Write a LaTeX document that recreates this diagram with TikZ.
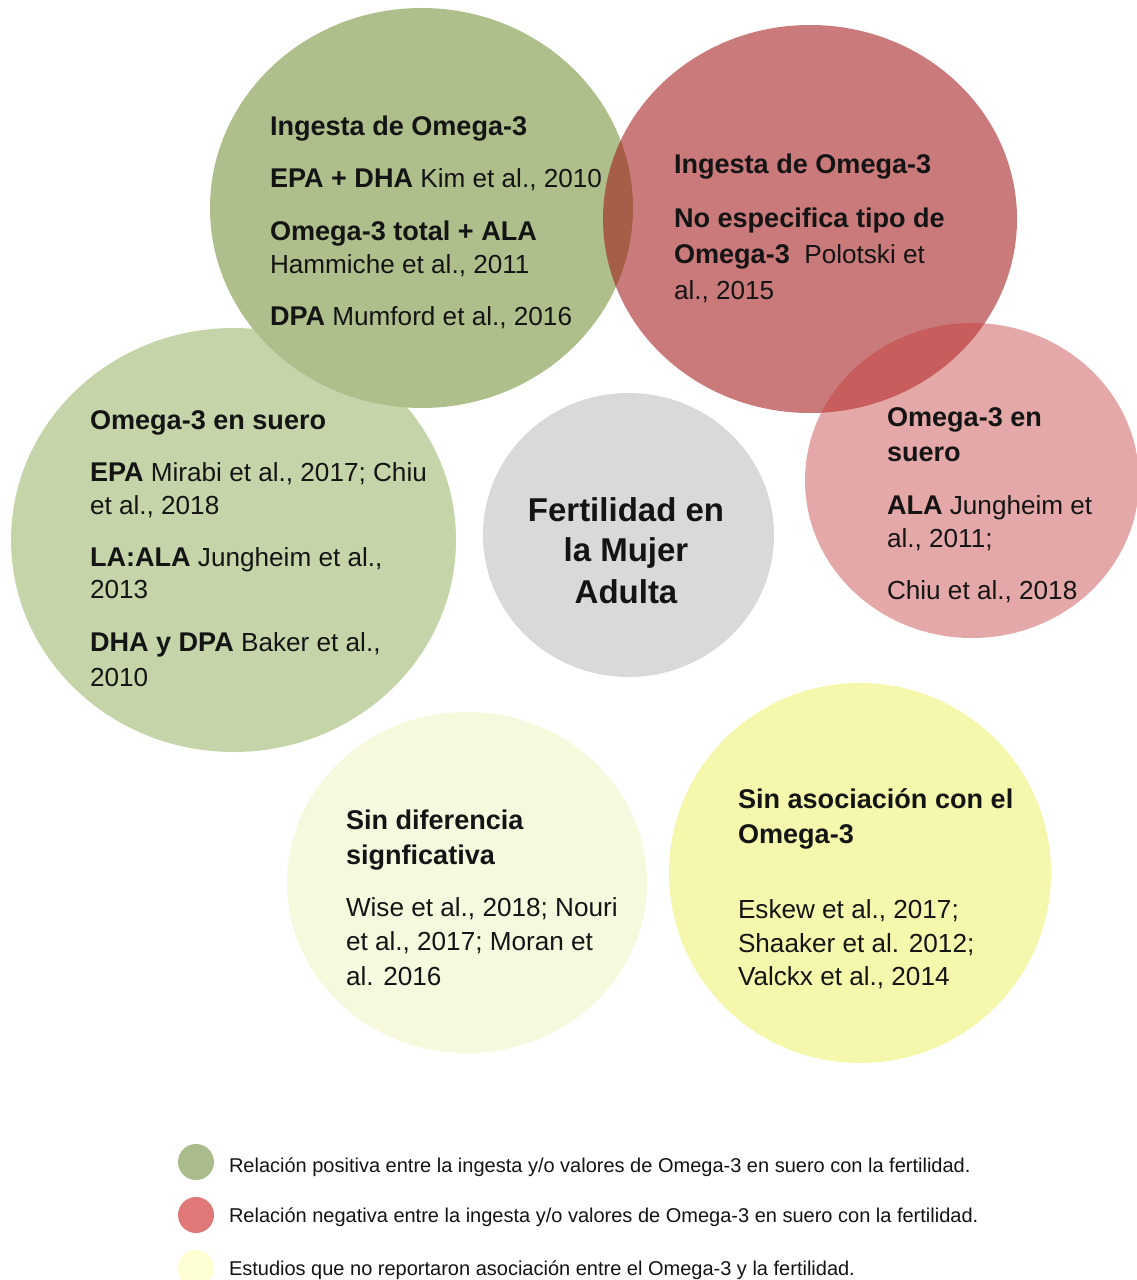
\documentclass[tikz,border=0pt]{standalone}
\usepackage{fontspec}
\setmainfont{Liberation Sans}
\definecolor{cgreen}{RGB}{175,191,139}
\definecolor{clgreen}{RGB}{197,213,169}
\definecolor{cred}{RGB}{162,19,19}
\definecolor{cpink}{RGB}{198,57,57}
\definecolor{cgrey}{RGB}{217,217,217}
\definecolor{clyellow}{RGB}{246,249,222}
\definecolor{cyellow}{RGB}{245,248,172}
\definecolor{lgreen}{RGB}{170,187,140}
\definecolor{lred}{RGB}{224,120,120}
\definecolor{lyellow}{RGB}{255,255,212}
\definecolor{ink}{RGB}{20,20,20}
\newcommand\bt[1]{{\fontsize{20.3}{25}\selectfont\bfseries #1}}
\tikzset{
  txt/.style={anchor=base west, inner sep=0pt, outer sep=0pt, text=ink, font=\fontsize{19.6}{25}\selectfont},
  ctxt/.style={anchor=base, inner sep=0pt, outer sep=0pt, text=ink, font=\fontsize{24.75}{30}\selectfont\bfseries},
  legtxt/.style={anchor=base west, inner sep=0pt, outer sep=0pt, text=ink, font=\fontsize{15}{18}\selectfont},
}
\begin{document}
\begin{tikzpicture}[x=0.75pt,y=-0.75pt]
\useasboundingbox (0,0) rectangle (1137,1280);
\fill[white] (0,0) rectangle (1137,1280);
% circles
\fill[clgreen] (233.5,540) ellipse [x radius=222.5, y radius=212];
\fill[cgreen] (421.5,208) ellipse [x radius=211.5, y radius=200];
\fill[cred, fill opacity=0.56] (810,219) ellipse [x radius=207, y radius=194];
\fill[cpink, fill opacity=0.44] (972,480.5) ellipse [x radius=167, y radius=157.5];
\fill[cgrey] (628.5,535) ellipse [x radius=145.5, y radius=142];
\fill[clyellow] (467,882.5) ellipse [x radius=180, y radius=170.5];
\fill[cyellow] (860,873) ellipse [x radius=191, y radius=190];
% top green texts
\node[txt] (g1) at (270,136) {\bt{Ingesta de Omega-3}};
\node[txt] (g2) at (270,188) {\bt{EPA + DHA} Kim et al., 2010};
\node[txt] (g3) at (270,240) {\bt{Omega-3 total + ALA}};
\node[txt] (g4) at (270,273) {Hammiche et al., 2011};
\node[txt] (g5) at (270,325) {\bt{DPA} Mumford et al., 2016};
% red texts
\node[txt] (r1) at (674,174) {\bt{Ingesta de Omega-3}};
\node[txt] (r2) at (674,228) {\bt{No especifica tipo de}};
\node[txt] (r3) at (674,263) {\bt{Omega-3}\ \ Polotski et};
\node[txt] (r4) at (674,299) {al., 2015};
% light green texts
\node[txt] (l1) at (90,429) {\bt{Omega-3 en suero}};
\node[txt] (l2) at (90,481) {\bt{EPA} Mirabi et al., 2017; Chiu};
\node[txt] (l3) at (90,514) {et al., 2018};
\node[txt] (l4) at (90,566) {\bt{LA:ALA} Jungheim et al.,};
\node[txt] (l5) at (90,598) {2013};
\node[txt] (l6) at (90,651) {\bt{DHA y DPA} Baker et al.,};
\node[txt] (l7) at (90,686) {2010};
% pink texts
\node[txt] (p1) at (887,426) {\bt{Omega-3 en}};
\node[txt] (p2) at (887,461) {\bt{suero}};
\node[txt] (p3) at (887,514) {\bt{ALA} Jungheim et};
\node[txt] (p4) at (887,547) {al., 2011;};
\node[txt] (p5) at (887,599) {Chiu et al., 2018};
% center
\node[ctxt] (c1) at (626,521) {Fertilidad en};
\node[ctxt] (c2) at (626,561) {la Mujer};
\node[ctxt] (c3) at (626,603) {Adulta};
% light yellow texts
\node[txt] (y1) at (346,829) {\bt{Sin diferencia}};
\node[txt] (y2) at (346,864) {\bt{signficativa}};
\node[txt] (y3) at (346,916) {Wise et al., 2018; Nouri};
\node[txt] (y4) at (346,950) {et al., 2017; Moran et};
\node[txt] (y5) at (346,985) {al. 2016};
% yellow texts
\node[txt] (s1) at (738,808) {\bt{Sin asociación con el}};
\node[txt] (s2) at (738,843) {\bt{Omega-3}};
\node[txt] (s3) at (738,918) {Eskew et al., 2017;};
\node[txt] (s4) at (738,952) {Shaaker et al. 2012;};
\node[txt] (s5) at (738,985) {Valckx et al., 2014};
% legend
\fill[lgreen] (196,1162) circle [radius=18];
\fill[lred] (196,1215) circle [radius=18];
\fill[lyellow] (196,1268) circle [radius=18];
\node[legtxt] (k1) at (229,1172) {Relación positiva entre la ingesta y/o valores de Omega-3 en suero con la fertilidad.};
\node[legtxt] (k2) at (229,1222) {Relación negativa entre la ingesta y/o valores de Omega-3 en suero con la fertilidad.};
\node[legtxt] (k3) at (229,1275) {Estudios que no reportaron asociación entre el Omega-3 y la fertilidad.};
\end{tikzpicture}
\end{document}
